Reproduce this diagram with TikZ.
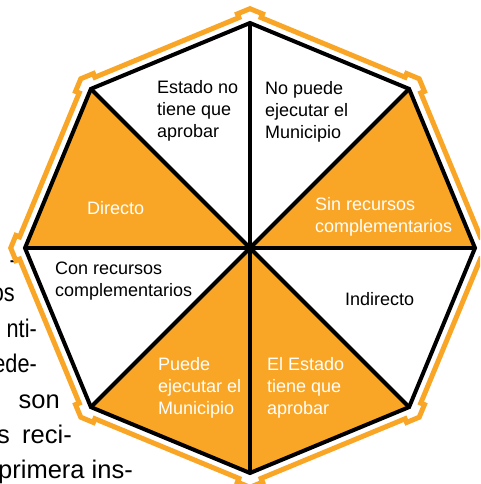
\documentclass[tikz,border=0pt]{standalone}
\usepackage{fontspec}
\setmainfont{Liberation Sans}
\usetikzlibrary{calc}
\definecolor{orng}{RGB}{249,166,38}
\newcommand{\bgsq}[1]{\scalebox{0.85}[1.0]{#1}}
\begin{document}
\begin{tikzpicture}[x=1pt,y=1pt,
  blk/.style={draw=black,line width=4pt},
  lbl/.style={font=\fontsize{18}{22}\selectfont, inner sep=0pt, align=left, anchor=north west},
  lblw/.style={lbl, text=white},
  single/.style={font=\fontsize{18}{22}\selectfont, inner sep=0pt, anchor=base west},
  bgtext/.style={font=\fontsize{25.5}{35}\selectfont, inner sep=0pt, anchor=base east}]
\useasboundingbox (-250,-236) rectangle (230,248);
\clip (-250,-236) rectangle (230,248);
\fill[white] (-250,-236) rectangle (230,248);

% background text fragments
\node[bgtext] (t0) at (-233,-21) {\bgsq{-}};
\node[bgtext] (t1) at (-235,-54) {\bgsq{os}};
\node[bgtext] (t2) at (-213,-89) {\bgsq{nti-}};
\node[bgtext] (t3) at (-213,-124) {\bgsq{ede-}};
\node[bgtext] (t4) at (-190,-160) {son};
\node[bgtext] (t5) at (-240,-195) {s};
\node[bgtext] (t6) at (-178,-195) {reci-};
\node[bgtext] (t7) at (-117,-230) {primera ins-};

% octagon vertices
\coordinate (O) at (0,0);
\foreach \i in {0,...,7} {
  \coordinate (V\i) at ({90-45*\i}:225);
  \coordinate (W\i) at ({90-45*\i}:235);
}
\foreach \i in {0,...,7} {
  \pgfmathtruncatemacro{\p}{mod(\i+7,8)}
  \pgfmathtruncatemacro{\n}{mod(\i+1,8)}
  \coordinate (A\i) at ($(W\i)!12pt!(W\p)$);
  \coordinate (B\i) at ($(W\i)!12pt!(W\n)$);
  \coordinate (Ap\i) at ($(A\i)+({112.5-45*\i}:4)$);
  \coordinate (Bp\i) at ($(B\i)+({67.5-45*\i}:4)$);
  \coordinate (Wp\i) at ({90-45*\i}:239.3);
}

% slices
\fill[white] (O) -- (V0) -- (V1) -- (V2) -- (V3) -- (V4) -- (V5) -- (V6) -- (V7) -- cycle;
\foreach \i/\j in {1/2,3/4,4/5,6/7} {
  \fill[orng] (O) -- (V\i) -- (V\j) -- cycle;
}

% outer orange outline
\draw[orng, line width=5pt] (B0)
  \foreach \i in {1,...,7} { -- (A\i) -- (Ap\i) -- (Wp\i) -- (Bp\i) -- (B\i) }
  -- (A0) -- (Ap0) -- (Wp0) -- (Bp0) -- cycle;

% black lines
\draw[blk] (V0) -- (V4);
\draw[blk] (V1) -- (V5);
\draw[blk] (V2) -- (V6);
\draw[blk] (V3) -- (V7);
\draw[blk, line join=miter] (V0) -- (V1) -- (V2) -- (V3) -- (V4) -- (V5) -- (V6) -- (V7) -- cycle;

% labels
\node[lbl] (l0) at (-93,168) {Estado no\\tiene que\\aprobar};
\node[lbl] (l1) at (15,167) {No puede\\ejecutar el\\Municipio};
\node[lblw] (l2) at (65,51) {Sin recursos\\complementarios};
\node[single, text=white] (l3) at (-163,33) {Directo};
\node[lbl] (l4) at (-195,-14) {Con recursos\\complementarios};
\node[single] (l5) at (95,-58) {Indirecto};
\node[lblw] (l6) at (-92,-109) {Puede\\ejecutar el\\Municipio};
\node[lblw] (l7) at (17,-109) {El Estado\\tiene que\\aprobar};
\end{tikzpicture}
\end{document}
